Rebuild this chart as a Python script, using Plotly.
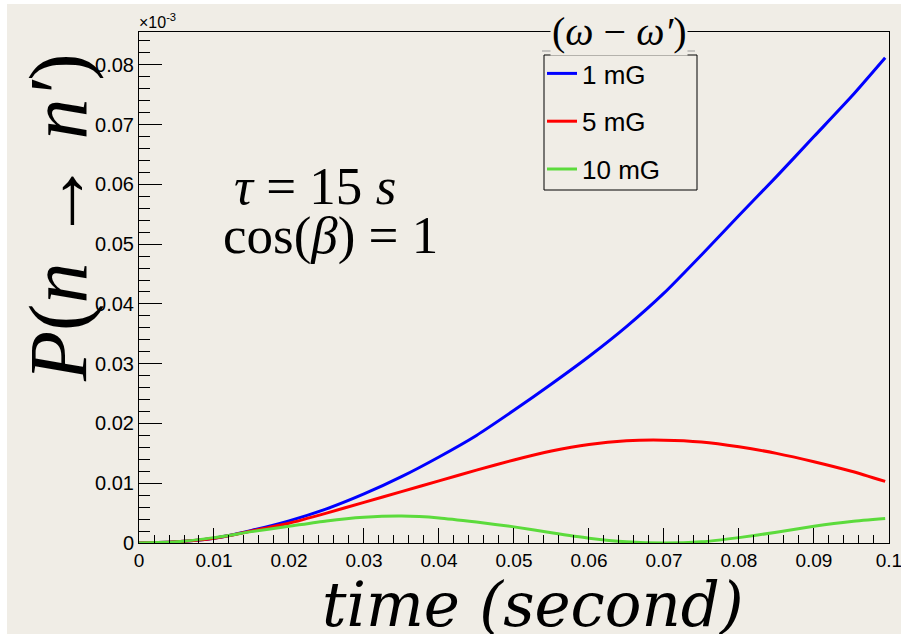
import plotly.graph_objects as go

# ---- data ----
time_s = [0.0, 0.005, 0.01, 0.015, 0.02, 0.025, 0.03, 0.035, 0.04, 0.045, 0.05,
          0.055, 0.06, 0.065, 0.07, 0.075, 0.08, 0.085, 0.09, 0.095, 0.0995]
p_1mG = [0.0, 0.0002, 0.0008, 0.0021, 0.0037, 0.0057, 0.0082, 0.0111, 0.0144, 0.0180, 0.0222,
         0.0266, 0.0312, 0.0362, 0.0418, 0.0482, 0.0548, 0.0613, 0.0680, 0.0747, 0.0812]
p_5mG = [0.0, 0.0002, 0.0008, 0.0020, 0.0033, 0.0050, 0.0068, 0.0086, 0.0104, 0.0122, 0.0139,
         0.0154, 0.0165, 0.0171, 0.0172, 0.0169, 0.0161, 0.0150, 0.0136, 0.0120, 0.0103]
p_10mG = [0.0, 0.0002, 0.0009, 0.0019, 0.0028, 0.0037, 0.0043, 0.0045, 0.0042, 0.0035, 0.0027,
          0.0017, 0.0008, 0.0002, 0.0, 0.0002, 0.0009, 0.0018, 0.0028, 0.0036, 0.0041]
series_names = ["1 mG", "5 mG", "10 mG"]
series_colors = ["#0000FF", "#FF0000", "#5CDB3C"]
x_ticks = [0, 0.01, 0.02, 0.03, 0.04, 0.05, 0.06, 0.07, 0.08, 0.09, 0.1]
x_tick_labels = ["0", "0.01", "0.02", "0.03", "0.04", "0.05", "0.06", "0.07", "0.08", "0.09", "0.1"]
y_ticks = [0, 0.01, 0.02, 0.03, 0.04, 0.05, 0.06, 0.07, 0.08]
y_tick_labels = ["0", "0.01", "0.02", "0.03", "0.04", "0.05", "0.06", "0.07", "0.08"]
x_range = [0, 0.10001]
y_range = [0, 0.0855]

W, H = 901, 634
L, R, T, B = 139, 12, 32, 91
PW, PH = W - L - R, H - T - B
BG = "#F0EDE6"


def px(x):
    return (x - L) / PW


def py(y):
    return (H - B - y) / PH


fig = go.Figure()
for name, vals, col in zip(series_names, [p_1mG, p_5mG, p_10mG], series_colors):
    fig.add_trace(go.Scatter(x=time_s, y=vals, mode="lines", name=name, legendgroup=name,
                             line=dict(color=col, width=3, shape="spline", smoothing=0.6)))

axis_common = dict(showline=True, linecolor="black", linewidth=1, mirror=True,
                   ticks="inside", tickcolor="black", showgrid=False, zeroline=False,
                   ticklabeloverflow="allow", automargin=False)

fig.update_xaxes(range=x_range, tickvals=x_ticks, ticktext=x_tick_labels, ticklen=15,
                 tickfont=dict(family="Liberation Sans, Arial", size=19, color="black"),
                 minor=dict(dtick=0.002, tick0=0, ticklen=8, ticks="inside", tickcolor="black"),
                 **axis_common)
fig.update_yaxes(range=y_range, tickvals=y_ticks, ticktext=y_tick_labels, ticklen=23,
                 tickfont=dict(family="Liberation Sans, Arial", size=20, color="black"),
                 minor=dict(dtick=0.002, tick0=0, ticklen=11, ticks="inside", tickcolor="black"),
                 **axis_common)

serif = "Liberation Serif, Times New Roman, serif"
wide_serif = "DejaVu Serif, serif"
annotations = [
    dict(text="<i>time (second)</i>", x=px(533), y=py(604), font=dict(family=wide_serif, size=61)),
    dict(text="<i>P</i>(<i>n</i> → <i>n′</i>)", x=px(58), y=py(218), textangle=-90,
         font=dict(family=serif, size=82)),
    dict(text="<i>τ</i> = 15 <i>s</i>", x=px(232), y=py(186), xanchor="left",
         font=dict(family=serif, size=53)),
    dict(text="cos(<i>β</i>) = 1", x=px(221), y=py(235), xanchor="left",
         font=dict(family=serif, size=53)),
    dict(text="×10<sup>-3</sup>", x=px(137), y=py(21), xanchor="left",
         font=dict(family="Liberation Sans, Arial", size=16)),
    dict(text="(<i>ω</i> − <i>ω′</i>)", x=px(619), y=py(31), bgcolor=BG,
         font=dict(family=serif, size=40)),
]
for a in annotations:
    a.setdefault("xanchor", "center")
    a.update(xref="paper", yref="paper", yanchor="middle", showarrow=False)
    a["font"]["color"] = "black"

fig.update_layout(
    width=W, height=H, margin=dict(l=L, r=R, t=T, b=B, pad=0, autoexpand=False),
    paper_bgcolor="white", plot_bgcolor=BG,
    annotations=annotations,
    shapes=[
        dict(type="rect", xref="paper", yref="paper", x0=px(7), x1=px(901), y0=py(634), y1=py(4),
             fillcolor=BG, line=dict(width=0), layer="below"),
        dict(type="line", xref="paper", yref="paper", x0=px(542), x1=px(695), y0=py(51), y1=py(51),
             line=dict(color="#999999", width=1)),
        dict(type="rect", xref="paper", yref="paper", x0=px(544), x1=px(697), y0=py(190), y1=py(55),
             fillcolor=BG, line=dict(color="black", width=1), layer="above"),
    ],
    legend=dict(x=px(542), y=py(50), xanchor="left", yanchor="top",
                bgcolor="rgba(0,0,0,0)", borderwidth=0,
                font=dict(family="Liberation Sans, Arial", size=26, color="black"),
                tracegroupgap=11, itemwidth=30),
    showlegend=True,
)

fig.write_html("out.html")
